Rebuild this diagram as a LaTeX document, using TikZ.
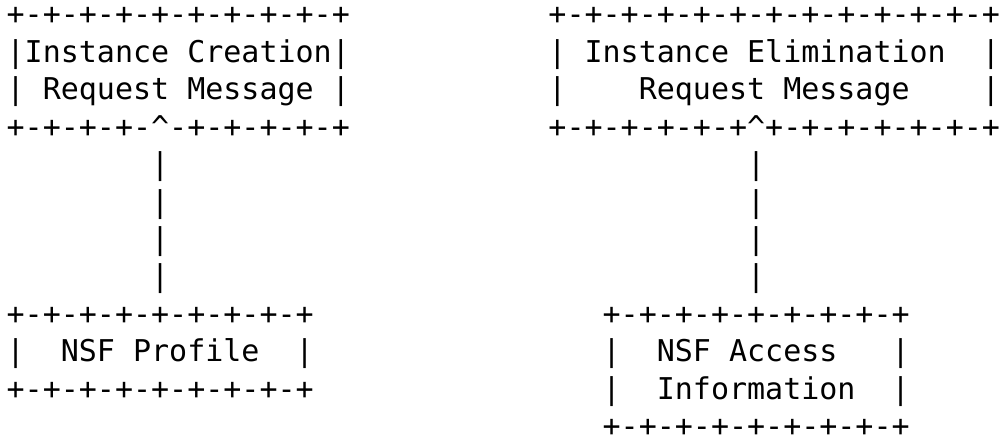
\documentclass[tikz,border=0pt]{standalone}
\usepackage{fontspec}
\setmonofont{DejaVu Sans Mono}
\tikzset{
  ascii/.style={anchor=base west, inner sep=0pt, outer sep=0pt,
    font=\ttfamily\fontsize{30}{37.45}\selectfont, text=black}
}
% place a row of characters: name, column, row, text
\newcommand\asciirow[4]{\node[ascii] (#1) at ({6.67+#2*18.06},{-24.8-(#3-1)*37.45}) {#4};}
\begin{document}
\begin{tikzpicture}[x=1pt,y=1pt]
\fill[white] (0,0) rectangle (1003,-444);
\useasboundingbox (0,0) rectangle (1003,-444);
% Instance Creation Request Message
\asciirow{creaA}{0}{1}{+-+-+-+-+-+-+-+-+-+}
\asciirow{creaB}{0}{2}{|Instance~Creation|}
\asciirow{creaC}{0}{3}{|~Request~Message~|}
\asciirow{creaD}{0}{4}{+-+-+-+-\textasciicircum-+-+-+-+-+}
% connector left
\foreach \r [count=\i] in {5,6,7,8}{\asciirow{lconn\i}{8}{\r}{|}}
% NSF Profile
\asciirow{profA}{0}{9}{+-+-+-+-+-+-+-+-+}
\asciirow{profB}{0}{10}{|~~NSF~Profile~~|}
\asciirow{profC}{0}{11}{+-+-+-+-+-+-+-+-+}
% Instance Elimination Request Message
\asciirow{elimA}{30}{1}{+-+-+-+-+-+-+-+-+-+-+-+-+}
\asciirow{elimB}{30}{2}{|~Instance~Elimination~~|}
\asciirow{elimC}{30}{3}{|~~~~Request~Message~~~~|}
\asciirow{elimD}{30}{4}{+-+-+-+-+-+\textasciicircum+-+-+-+-+-+-+}
% connector right
\foreach \r [count=\i] in {5,6,7,8}{\asciirow{rconn\i}{41}{\r}{|}}
% NSF Access Information
\asciirow{accA}{33}{9}{+-+-+-+-+-+-+-+-+}
\asciirow{accB}{33}{10}{|~~NSF~Access~~~|}
\asciirow{accC}{33}{11}{|~~Information~~|}
\asciirow{accD}{33}{12}{+-+-+-+-+-+-+-+-+}
\end{tikzpicture}
\end{document}
